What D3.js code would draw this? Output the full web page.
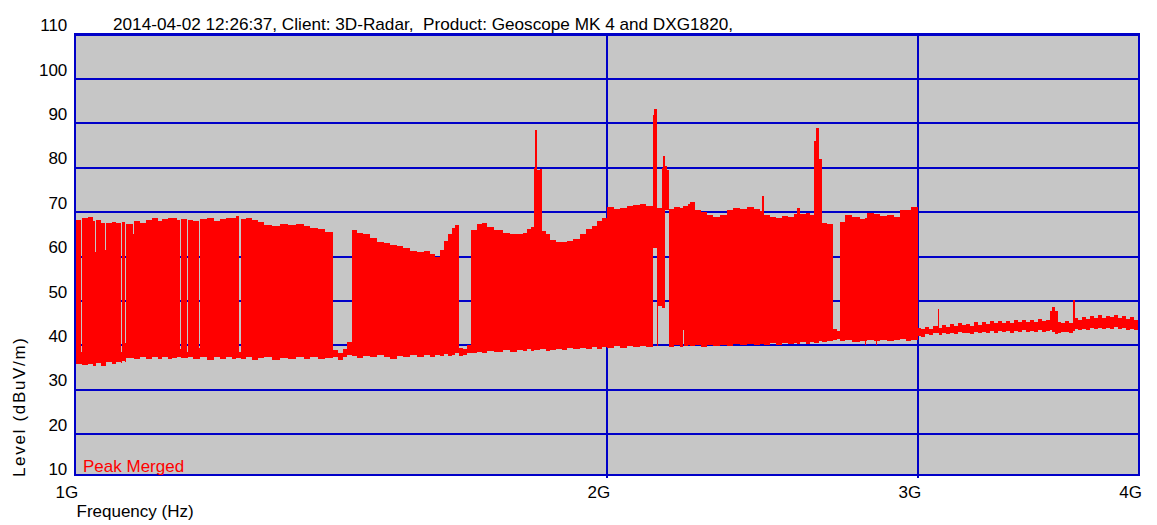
<!DOCTYPE html>
<html>
<head>
<meta charset="utf-8">
<script src="https://cdn.jsdelivr.net/npm/d3@7"></script>
<style>
  html, body { margin: 0; padding: 0; background: #ffffff; }
  svg { display: block; font-family: "Liberation Sans", Arial, sans-serif; }
</style>
</head>
<body>
<svg id="chart" width="1157" height="525"></svg>
<script>
// Peak-merged sweep, stored as step segments: each entry starts at freqMHz[i]
// and holds its max (levelHi) / min (levelLo) level until the next entry.
const freqMHz = [
  1000.0, 1008.1, 1009.4, 1016.7, 1023.3, 1026.0, 1027.3, 1033.4, 1034.7, 1039.2,
  1040.6, 1049.0, 1054.5, 1061.3, 1062.7, 1067.6, 1069.0, 1078.7, 1080.1, 1087.9,
  1096.5, 1105.1, 1113.8, 1118.9, 1120.3, 1128.5, 1133.6, 1135.0, 1141.7, 1146.9,
  1148.4, 1156.0, 1157.5, 1165.8, 1175.7, 1177.2, 1187.2, 1198.0, 1207.6, 1217.0,
  1226.5, 1233.0, 1238.6, 1240.3, 1249.1, 1258.9, 1268.9, 1278.7, 1292.2, 1305.8,
  1319.3, 1333.3, 1347.2, 1357.6, 1372.1, 1384.6, 1399.0, 1408.3, 1417.5, 1424.8,
  1434.2, 1443.6, 1454.9, 1468.0, 1481.8, 1495.3, 1506.8, 1520.9, 1532.7, 1546.6,
  1561.1, 1575.3, 1587.4, 1598.2, 1608.6, 1616.9, 1625.3, 1633.6, 1640.4, 1647.8,
  1657.5, 1666.0, 1674.6, 1688.0, 1699.0, 1710.0, 1725.3, 1746.2, 1761.9, 1778.4,
  1792.3, 1801.6, 1810.8, 1818.2, 1821.3, 1826.1, 1832.5, 1837.2, 1846.7, 1856.2,
  1871.2, 1885.8, 1898.0, 1912.6, 1930.6, 1945.6, 1960.6, 1973.9, 1986.7, 1999.5,
  2018.1, 2033.9, 2052.3, 2068.1, 2087.6, 2103.8, 2121.9, 2126.9, 2133.6, 2138.0,
  2147.5, 2151.9, 2156.6, 2162.2, 2168.6, 2182.3, 2199.4, 2207.9, 2210.8, 2222.2,
  2227.9, 2242.8, 2260.4, 2277.9, 2295.5, 2317.1, 2338.1, 2356.1, 2378.3, 2399.8,
  2421.4, 2441.1, 2447.4, 2453.7, 2472.7, 2492.6, 2512.0, 2531.5, 2551.0, 2561.8,
  2571.8, 2591.8, 2605.1, 2617.4, 2626.0, 2637.3, 2645.5, 2663.6, 2685.2, 2698.9,
  2709.4, 2727.0, 2751.5, 2780.9, 2799.0, 2802.6, 2806.2, 2831.4, 2839.6, 2843.3,
  2854.4, 2880.3, 2906.1, 2929.8, 2952.6, 2971.6, 2998.0, 3011.1, 3026.7, 3042.3,
  3057.9, 3076.6, 3081.4, 3094.6, 3110.6, 3126.6, 3142.6, 3160.0, 3176.4, 3192.8,
  3209.2, 3225.6, 3243.4, 3260.2, 3277.1, 3293.9, 3310.8, 3329.1, 3346.4, 3363.7,
  3381.0, 3398.2, 3417.0, 3434.7, 3452.5, 3470.2, 3488.0, 3507.2, 3525.4, 3543.7,
  3561.9, 3571.0, 3584.7, 3597.6, 3614.0, 3632.6, 3651.4, 3672.4, 3679.1, 3695.0,
  3714.1, 3733.4, 3752.5, 3771.7, 3792.6, 3812.3, 3832.0, 3851.7, 3871.4, 3892.8,
  3913.0, 3933.2, 3953.4, 3973.6, 4000.0
];

const levelHi = [
  68.2, 38.5, 68.6, 68.9, 68.0, 61.0, 68.2, 39.0, 67.6, 61.5,
  67.5, 67.9, 67.6, 38.5, 67.8, 40.5, 67.4, 65.0, 68.0, 67.6,
  68.3, 68.6, 68.1, 63.0, 68.4, 68.7, 65.5, 68.6, 68.2, 39.2,
  68.5, 38.5, 68.3, 68.0, 39.5, 68.4, 68.6, 68.1, 68.5, 68.8,
  68.6, 69.1, 38.6, 68.5, 68.8, 68.3, 67.8, 67.2, 67.0, 67.3,
  67.1, 67.4, 67.0, 66.5, 66.3, 65.6, 39.0, 38.4, 39.3, 40.8,
  66.1, 65.3, 65.0, 64.2, 63.3, 63.0, 62.7, 62.4, 62.0, 61.2,
  61.0, 61.3, 60.6, 60.0, 61.5, 63.5, 65.0, 66.5, 67.2, 39.5,
  39.2, 40.0, 66.0, 67.3, 67.6, 66.6, 66.1, 65.4, 65.2, 65.0,
  65.3, 66.2, 66.6, 80.0, 88.5, 79.5, 79.8, 65.8, 65.2, 63.8,
  63.4, 63.2, 63.6, 64.0, 65.0, 66.2, 66.8, 68.0, 68.8, 71.1,
  70.8, 71.0, 71.3, 71.6, 71.9, 71.4, 92.0, 93.2, 71.0, 71.0,
  80.0, 82.6, 80.5, 79.5, 70.8, 71.2, 71.0, 71.3, 71.3, 71.8,
  72.2, 70.4, 70.0, 69.3, 69.0, 69.4, 70.6, 71.0, 70.8, 71.2,
  70.8, 70.3, 73.6, 69.4, 69.0, 68.7, 69.2, 68.9, 69.6, 71.0,
  69.5, 69.8, 69.3, 86.0, 89.0, 82.0, 67.6, 67.3, 43.8, 43.2,
  67.7, 69.3, 69.0, 68.4, 68.6, 68.6, 69.8, 69.6, 69.6, 69.6,
  69.1, 69.4, 68.9, 70.6, 70.4, 71.1, 44.0, 43.6, 44.2, 43.8,
  44.3, 48.3, 44.0, 44.6, 44.2, 44.8, 44.4, 45.0, 44.5, 44.9,
  44.4, 45.2, 44.7, 45.3, 44.8, 45.4, 45.0, 45.6, 45.1, 45.5,
  45.0, 45.7, 45.2, 45.8, 45.3, 45.7, 45.2, 45.9, 45.4, 45.8,
  47.7, 48.6, 47.8, 45.2, 45.0, 45.4, 45.1, 50.3, 46.2, 45.8,
  46.5, 46.0, 46.6, 46.2, 46.8, 46.3, 46.7, 46.4, 46.9, 46.3,
  46.6, 45.9, 46.4, 45.8, 45.8
];

const levelLo = [
  35.8, 35.8, 35.5, 35.9, 35.4, 35.4, 36.0, 35.6, 35.3, 35.3,
  36.2, 35.8, 36.3, 36.0, 36.5, 36.3, 37.2, 37.2, 37.0, 37.4,
  36.9, 37.3, 37.0, 37.0, 37.4, 36.9, 36.9, 37.2, 37.5, 37.5,
  37.1, 37.1, 37.4, 37.0, 37.0, 37.3, 36.8, 37.3, 37.0, 37.4,
  36.9, 37.2, 37.2, 37.0, 37.4, 36.8, 37.1, 37.3, 36.8, 37.2,
  36.9, 37.3, 37.0, 37.4, 36.9, 37.2, 37.5, 36.8, 37.3, 37.8,
  37.6, 37.2, 37.7, 37.3, 37.8, 37.4, 37.0, 37.6, 37.3, 37.8,
  37.4, 37.9, 37.5, 37.8, 37.6, 38.0, 37.6, 37.9, 38.2, 37.6,
  37.9, 38.3, 38.3, 38.6, 38.2, 38.8, 38.5, 38.9, 38.6, 39.0,
  38.7, 39.1, 38.8, 39.0, 39.0, 39.0, 39.2, 39.2, 38.8, 38.9,
  39.3, 39.0, 39.4, 39.1, 39.5, 39.2, 39.6, 39.3, 39.7, 39.4,
  39.8, 39.5, 39.9, 39.6, 39.9, 39.6, 62.0, 62.0, 39.8, 48.8,
  48.5, 48.5, 70.5, 70.5, 39.6, 40.0, 39.7, 43.5, 39.8, 40.1,
  39.8, 40.1, 39.7, 40.2, 39.8, 40.2, 39.9, 40.3, 40.0, 40.4,
  40.1, 40.4, 40.4, 40.1, 40.5, 40.2, 40.5, 40.3, 40.6, 40.4,
  40.7, 40.4, 40.8, 40.6, 40.6, 40.9, 40.7, 41.0, 41.2, 41.5,
  41.0, 41.2, 40.8, 41.1, 40.2, 41.0, 41.2, 40.9, 40.0, 41.1,
  41.3, 40.9, 41.2, 41.4, 41.0, 41.3, 42.2, 42.0, 42.6, 42.3,
  42.7, 42.8, 42.4, 42.8, 42.5, 42.9, 42.6, 43.0, 42.7, 42.9,
  42.6, 43.0, 42.8, 43.1, 42.8, 43.2, 42.9, 43.3, 43.0, 43.2,
  42.9, 43.3, 43.0, 43.4, 43.1, 43.3, 43.0, 43.4, 43.1, 43.2,
  43.4, 43.0, 42.5, 42.8, 43.0, 43.1, 42.9, 43.3, 43.6, 43.4,
  43.8, 43.5, 43.9, 43.6, 44.0, 43.7, 43.9, 43.8, 44.1, 43.7,
  43.9, 43.5, 43.8, 43.4, 43.4
];

const levelTicks = [10, 20, 30, 40, 50, 60, 70, 80, 90, 100, 110];
const freqTicks = [1000, 2000, 3000, 4000];
const freqTickLabels = ["1G", "2G", "3G", "4G"];
const titleText = "2014-04-02 12:26:37, Client: 3D-Radar,  Product: Geoscope MK 4 and DXG1820,";
const traceName = "Peak Merged";
const xTitle = "Frequency (Hz)";
const yTitle = "Level (dBuV/m)";

const GRID = "#0000c8";
const TRACE = "#ff0000";
const FONT = 17;

const svg = d3.select("#chart");
const plot = { left: 75.3, right: 1139, top: 33.7, bottom: 475.3 };

const x = d3.scaleLog().domain([1000, 4000]).range([plot.left, plot.right]);
const y = d3.scaleLinear().domain([10.77, 110.2]).range([plot.bottom, plot.top]);

// plot background
svg.append("rect")
  .attr("x", plot.left).attr("y", plot.top)
  .attr("width", plot.right - plot.left).attr("height", plot.bottom - plot.top)
  .attr("fill", "#c6c6c6");

// grid
const grid = svg.append("g").attr("shape-rendering", "crispEdges");
grid.selectAll("line.h")
  .data(levelTicks.filter(v => v > y.domain()[0] && v < y.domain()[1]))
  .join("line")
  .attr("x1", plot.left).attr("x2", plot.right)
  .attr("y1", d => y(d)).attr("y2", d => y(d))
  .attr("stroke", GRID).attr("stroke-width", 2);
grid.selectAll("line.v")
  .data(freqTicks.slice(1, -1))
  .join("line")
  .attr("x1", d => x(d)).attr("x2", d => x(d))
  .attr("y1", plot.top).attr("y2", plot.bottom + 3)
  .attr("stroke", GRID).attr("stroke-width", 2);

// trace: max/min envelope of the sweep
const trace = freqMHz.map((f, i) => ({ f, hi: levelHi[i], lo: levelLo[i] }));
const area = d3.area()
  .curve(d3.curveStepAfter)
  .x(d => x(d.f))
  .y0(d => y(d.lo))
  .y1(d => y(d.hi));
svg.append("clipPath").attr("id", "plotClip")
  .append("rect")
  .attr("x", plot.left).attr("y", plot.top)
  .attr("width", plot.right - plot.left).attr("height", plot.bottom - plot.top);
svg.append("path")
  .datum(trace)
  .attr("clip-path", "url(#plotClip)")
  .attr("d", area)
  .attr("fill", TRACE)
  .attr("shape-rendering", "crispEdges");

// frame
svg.append("rect")
  .attr("x", plot.left).attr("y", plot.top)
  .attr("width", plot.right - plot.left).attr("height", plot.bottom - plot.top)
  .attr("fill", "none").attr("stroke", GRID).attr("stroke-width", 2)
  .attr("shape-rendering", "crispEdges");

// level axis labels
const yAxis = d3.axisLeft(y).tickValues(levelTicks).tickSize(0).tickPadding(8)
  .tickFormat(d3.format("d"));
const yAxisG = svg.append("g").attr("transform", `translate(${plot.left},0)`).call(yAxis);
yAxisG.select(".domain").remove();
yAxisG.selectAll("text")
  .attr("dy", -4)
  .attr("font-size", FONT)
  .attr("font-family", "Liberation Sans, Arial, sans-serif")
  .attr("fill", "#000");

// frequency axis labels
const xAxis = d3.axisBottom(x).tickValues(freqTicks).tickSize(0).tickPadding(0)
  .tickFormat((d, i) => freqTickLabels[i]);
const xAxisG = svg.append("g").attr("transform", `translate(0,${plot.bottom})`).call(xAxis);
xAxisG.select(".domain").remove();
xAxisG.selectAll("text")
  .attr("text-anchor", "end")
  .attr("x", 2.5)
  .attr("y", 22.7)
  .attr("dy", 0)
  .attr("font-size", FONT)
  .attr("font-family", "Liberation Sans, Arial, sans-serif")
  .attr("fill", "#000");

// texts
const textFont = sel => sel
  .attr("font-size", FONT)
  .attr("font-family", "Liberation Sans, Arial, sans-serif");

svg.append("text")
  .attr("x", 113).attr("y", 30)
  .style("white-space", "pre")
  .attr("textLength", 620).attr("lengthAdjust", "spacingAndGlyphs")
  .attr("fill", "#000")
  .call(textFont)
  .text(titleText);

svg.append("text")
  .attr("x", 76.5).attr("y", 517)
  .attr("fill", "#000")
  .call(textFont)
  .text(xTitle);

svg.append("text")
  .attr("transform", "translate(25,477) rotate(-90)")
  .attr("textLength", 139).attr("lengthAdjust", "spacing")
  .attr("fill", "#000")
  .call(textFont)
  .text(yTitle);

svg.append("text")
  .attr("x", 83).attr("y", 471.5)
  .attr("fill", TRACE)
  .call(textFont)
  .text(traceName);
</script>
</body>
</html>
